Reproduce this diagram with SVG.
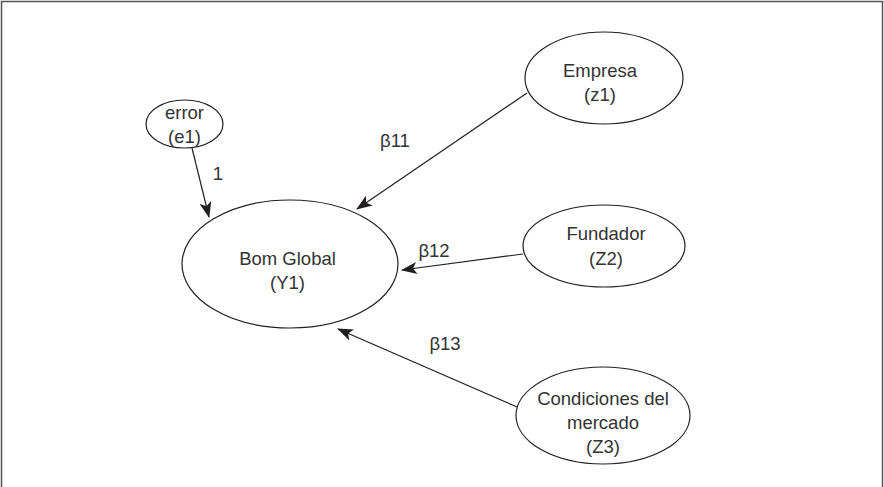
<svg xmlns="http://www.w3.org/2000/svg" width="884" height="487" viewBox="0 0 884 487">
<style>
.n{fill:#fff;stroke:#231f20;stroke-width:1.2}
.t{font-family:"Liberation Sans",Arial,sans-serif;font-size:18.5px;fill:#333;text-anchor:middle}
.c{stroke:#231f20;stroke-width:1.2;fill:none;marker-end:url(#ah)}
</style>
<defs>
<marker id="ah" viewBox="0 0 16 12" refX="15" refY="6" markerWidth="16" markerHeight="12" markerUnits="userSpaceOnUse" orient="auto">
<path d="M0,0 L16,6 L0,12 L4,6 Z" fill="#231f20"/>
</marker>
</defs>
<rect x="1.5" y="1.5" width="881" height="495" fill="#fff" stroke="#555" stroke-width="1.5"/>
<g id="connectors">
<line class="c" x1="192" y1="148" x2="209" y2="217"/>
<line class="c" x1="527" y1="93" x2="357" y2="209"/>
<line class="c" x1="523" y1="254" x2="402" y2="270"/>
<line class="c" x1="517" y1="407" x2="338" y2="329"/>
<text class="t" x="218" y="180">1</text>
<text class="t" x="395" y="147">β11</text>
<text class="t" x="434" y="257">β12</text>
<text class="t" x="445" y="350">β13</text>
</g>
<g id="error">
<ellipse class="n" cx="184.5" cy="124" rx="38.5" ry="24"/>
<text class="t" x="184.5" y="119">error</text>
<text class="t" x="184.5" y="143">(e1)</text>
</g>
<g id="bomglobal">
<ellipse class="n" cx="290" cy="264" rx="108" ry="64"/>
<text class="t" x="287.5" y="265">Bom Global</text>
<text class="t" x="287.5" y="289">(Y1)</text>
</g>
<g id="empresa">
<ellipse class="n" cx="604" cy="78" rx="79" ry="46"/>
<text class="t" x="600" y="77">Empresa</text>
<text class="t" x="600" y="101">(z1)</text>
</g>
<g id="fundador">
<ellipse class="n" cx="604" cy="246" rx="81" ry="41"/>
<text class="t" x="606" y="240">Fundador</text>
<text class="t" x="606" y="265">(Z2)</text>
</g>
<g id="condiciones">
<ellipse class="n" cx="603" cy="415.5" rx="87" ry="48.5"/>
<text class="t" x="603" y="405">Condiciones del</text>
<text class="t" x="603" y="429">mercado</text>
<text class="t" x="603" y="453">(Z3)</text>
</g>
</svg>
